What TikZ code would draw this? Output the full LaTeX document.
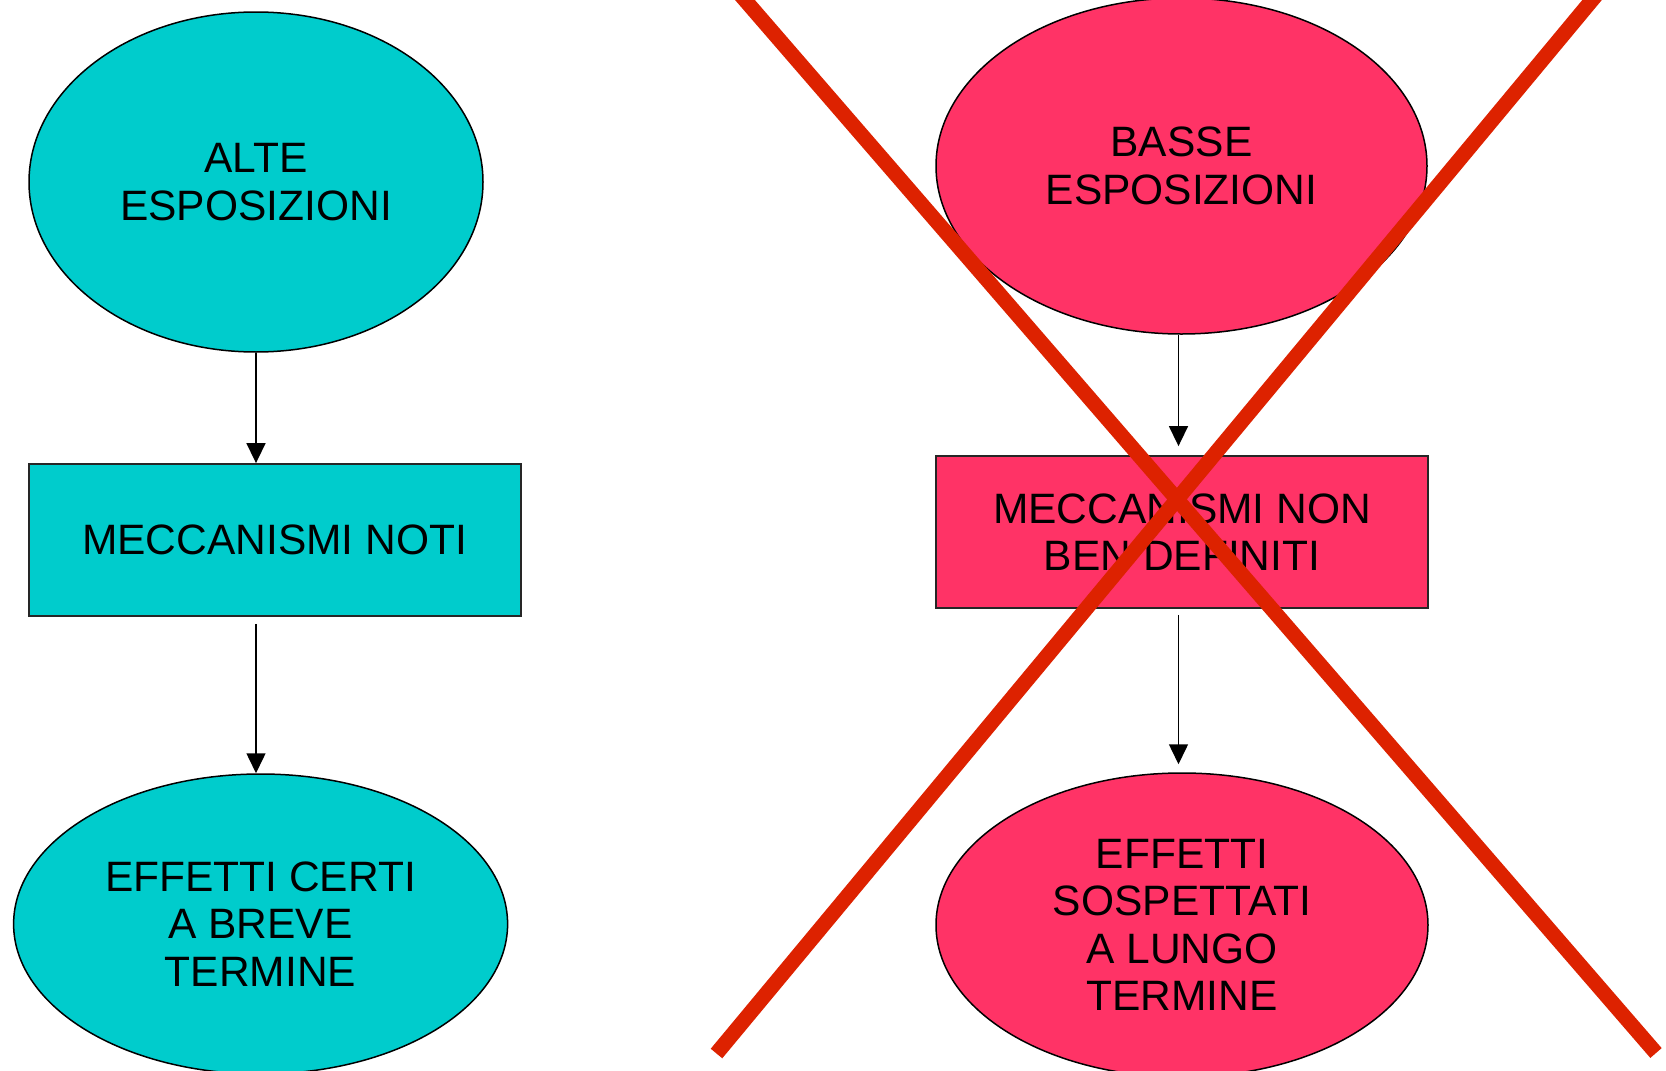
\documentclass[tikz,border=0pt]{standalone}
\usepackage{fontspec}
\setmainfont{Liberation Sans}
\usetikzlibrary{shapes.geometric,arrows.meta}
\definecolor{tealfill}{HTML}{00CCCC}
\definecolor{pinkfill}{HTML}{FF3366}
\definecolor{crossred}{HTML}{DD2200}
\tikzset{
  boxtext/.style={align=center,inner sep=0pt,font=\fontsize{42.5}{47.5}\selectfont,text=black},
  ovalnode/.style={boxtext,ellipse,draw=black,line width=1.5pt},
  rectnode/.style={boxtext,rectangle,draw=black!85,line width=1.8pt},
  flowarrow/.style={line width=1.5pt,-{Triangle[length=20pt,width=19pt]}},
  crossline/.style={crossred,line width=15pt}
}
\begin{document}
\begin{tikzpicture}[x=1pt,y=-1pt]
\useasboundingbox (0,0) rectangle (1666,1071);
\fill[white] (0,0) rectangle (1666,1071);
% left column
\node[ovalnode,fill=tealfill,minimum width=454pt,minimum height=340pt] (e1) at (256,182) {ALTE\\ESPOSIZIONI};
\node[rectnode,fill=tealfill,minimum width=492pt,minimum height=152pt] (r1) at (274.6,540) {MECCANISMI NOTI};
\node[ovalnode,fill=tealfill,minimum width=494pt,minimum height=300pt] (e2) at (260.6,924) {EFFETTI CERTI\\A BREVE\\TERMINE};
% right column
\node[ovalnode,fill=pinkfill,minimum width=491pt,minimum height=336pt] (e3) at (1181.5,166) {BASSE\\ESPOSIZIONI};
\node[rectnode,fill=pinkfill,minimum width=492pt,minimum height=152pt] (r2) at (1182,532) {MECCANISMI NON\\BEN DEFINITI};
\node[ovalnode,fill=pinkfill,minimum width=492pt,minimum height=304pt] (e4) at (1182,925) {EFFETTI\\SOSPETTATI\\A LUNGO\\TERMINE};
% arrows
\draw[flowarrow] (e1.south) -- (e1.south |- r1.north);
\draw[flowarrow,shorten <=7pt] (e1.south |- r1.south) -- (e1.south |- e2.north);
\draw[flowarrow,shorten >=9pt] ([xshift=-3pt]e3.south) -- ([xshift=-3pt]e3.south |- r2.north);
\draw[flowarrow,shorten <=6pt,shorten >=8pt] ([xshift=-3pt]e3.south |- r2.south) -- ([xshift=-3pt]e3.south |- e4.north);
% red cross
\coordinate (xa1) at (719,-30);
\coordinate (xa2) at (1656,1053);
\coordinate (xb1) at (1617,-30);
\coordinate (xb2) at (716.5,1053.5);
\begin{scope}
\clip (0,0) rectangle (1666,1071);
\draw[crossline] (xa1) -- (xa2);
\draw[crossline] (xb1) -- (xb2);
\end{scope}
\end{tikzpicture}
\end{document}
